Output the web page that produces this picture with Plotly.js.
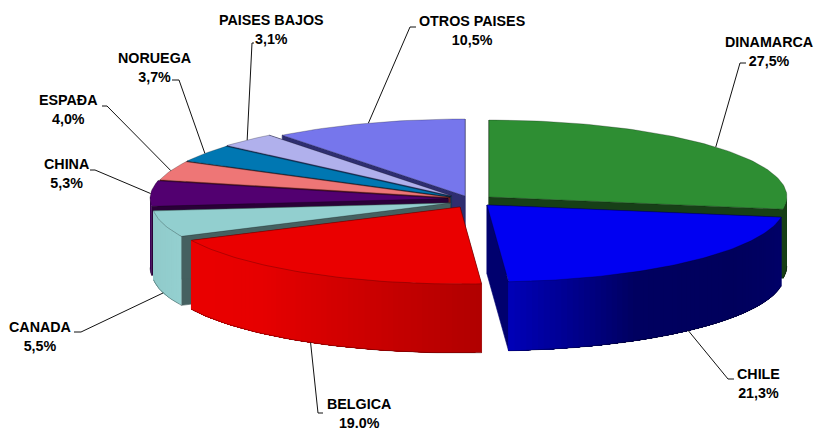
<!DOCTYPE html>
<html><head><meta charset="utf-8">
<script src="https://cdn.plot.ly/plotly-3.0.1.min.js"></script>
<style>html,body{margin:0;padding:0;background:#fff}#chart{width:816px;height:430px}</style>
</head><body><div id="chart"></div>
<script>
// ---- data, clockwise from 12 o'clock
var categories = ['DINAMARCA','CHILE','BELGICA','CANADA','CHINA','ESPAÐA','NORUEGA','PAISES BAJOS','OTROS PAISES'];
var values     = [27.5,21.3,19.0,5.5,5.3,4.0,3.7,3.1,10.5];
var valueTexts = ['27,5%','21,3%','19.0%','5,5%','5,3%','4,0%','3,7%','3,1%','10,5%'];
// ---- styles
var topColors  = ['#2E8E33','#0000F2','#EA0000','#92CFCF','#520070','#EE7676','#0077B2','#B0B0EC','#7676EC'];
var wallColors = ['#173F17','#00006E','#8A0000','#456060','#2A0038','#6E2020','#003A58','#303068','#2E2E70'];
var rimStops   = [['#173F17','#173F17'],['#000068','#00005C','#000060','#0000B8'],['#B00000','#CC0000','#E60000','#EA0000'],['#94D0D0','#8FC8C8'],['#3E0058','#3E0058'],['#888888','#888888'],['#888888','#888888'],['#888888','#888888'],['#888888','#888888']];
// ---- geometry
var rx = 298, ry = 77, depth = 69;
var apexX = [489,487,460,450,448,450,451,452,465];
var apexY = [197,205,207,203,198.5,197.5,196.8,196,196];
var drawOrder = [8,7,6,5,4,0,3,1,2];
var labelX = [769,758,359,40,66,68,154,271,472];
var labelY = [51,383.5,413.5,336.5,173.5,109,67,29,30];
var elbowX = [740,728,318,81,95,107,179,252,410];
var elbowY = [63,379,413,332,170,106,80,43,27];
var tickX  = [746,734,323,74,90,102,172,254,416];

var total = values.reduce(function(a,b){return a+b;},0);
var startAngle = [], endAngle = [], acc = 0;
values.forEach(function(v){ startAngle.push(acc/total*2*Math.PI); acc += v; endAngle.push(acc/total*2*Math.PI); });
function pt(i,a,drop){ return [apexX[i]+rx*Math.sin(a), apexY[i]-ry*Math.cos(a)+(drop||0)]; }
function hex(c){ return [1,3,5].map(function(k){return parseInt(c.substr(k,2),16);}); }
function mix(stops,t){
  var s=t*(stops.length-1), k=Math.min(Math.floor(s),stops.length-2), f=s-k, a=hex(stops[k]), b=hex(stops[k+1]);
  return 'rgb('+a.map(function(v,j){return Math.round(v+(b[j]-v)*f);}).join(',')+')';
}
function poly(points,color,lineColor,lw){
  return {type:'scatter',mode:'lines',x:points.map(function(p){return p[0];}),y:points.map(function(p){return p[1];}),
    fill:'toself',fillcolor:color,line:{color:lineColor||color,width:lw===undefined?0.6:lw},hoverinfo:'skip',showlegend:false};
}
var edge='rgba(0,0,0,0.4)';
var traces=[];
drawOrder.forEach(function(i){
  var a0=startAngle[i], a1=endAngle[i], c=[apexX[i],apexY[i]];
  // radial walls
  [a0,a1].forEach(function(a){
    var p=pt(i,a); traces.push(poly([c,p,[p[0],p[1]+depth],[c[0],c[1]+depth],c],wallColors[i]));
  });
  // outer rim, only the part facing the viewer; each band runs to the rim's far end so no seams show
  var r0=Math.max(a0,Math.PI/2), r1=Math.min(a1,1.5*Math.PI);
  if(r1>r0){
    var n=Math.max(2,Math.round((r1-r0)/0.02)), m=Math.max(8,Math.round((r1-r0)/0.03)), e;
    for(var s=0;s<n;s++){
      var b0=r0+(r1-r0)*s/n, seg=[];
      for(e=0;e<=m;e++) seg.push(pt(i,b0+(r1-b0)*e/m));
      for(e=m;e>=0;e--) seg.push(pt(i,b0+(r1-b0)*e/m,depth));
      seg.push(seg[0]);
      traces.push(poly(seg,mix(rimStops[i],(s+0.5)/n),null,0));
    }
    var lower=[];
    for(e=0;e<=m;e++) lower.push(pt(i,r0+(r1-r0)*e/m,depth));
    traces.push({type:'scatter',mode:'lines',x:lower.map(function(p){return p[0];}),y:lower.map(function(p){return p[1];}),
      line:{color:edge,width:0.8},hoverinfo:'skip',showlegend:false});
  }
  // top face
  var pts=[c], k=Math.max(6,Math.round((a1-a0)/0.02));
  for(var q=0;q<=k;q++) pts.push(pt(i,a0+(a1-a0)*q/k));
  pts.push(c);
  traces.push(poly(pts,topColors[i],edge,0.6));
});
// leader lines and labels
var annotations=[];
categories.forEach(function(name,i){
  var mid=(startAngle[i]+endAngle[i])/2;
  var front=Math.cos(mid)<0;
  var p=pt(i,mid,front?depth:0);
  traces.push({type:'scatter',mode:'lines',x:[p[0],elbowX[i],tickX[i]],y:[p[1],elbowY[i],elbowY[i]],
    line:{color:'#111',width:1},hoverinfo:'skip',showlegend:false});
  annotations.push({x:labelX[i],y:labelY[i],xref:'x',yref:'y',showarrow:false,xanchor:'center',yanchor:'middle',
    text:'<b>'+name+'<br>'+valueTexts[i]+'</b>',align:'center',
    font:{family:'Liberation Sans, Arial, sans-serif',size:14.3,color:'#000'}});
});
Plotly.newPlot('chart',traces,{
  width:816,height:430,margin:{l:0,r:0,t:0,b:0},paper_bgcolor:'#fff',plot_bgcolor:'#fff',showlegend:false,
  xaxis:{range:[0,816],visible:false,fixedrange:true},
  yaxis:{range:[430,0],visible:false,fixedrange:true},
  annotations:annotations
},{displayModeBar:false,staticPlot:true});
</script></body></html>
